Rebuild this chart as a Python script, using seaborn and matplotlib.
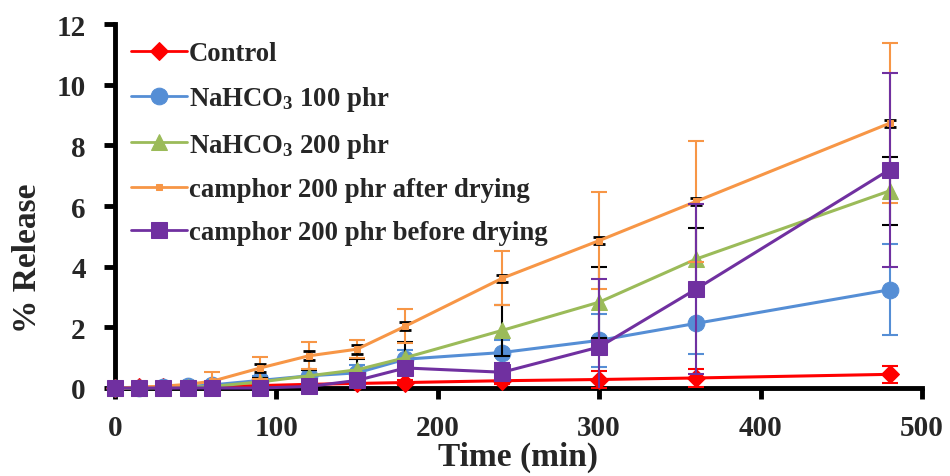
import pandas as pd
import seaborn as sns
from matplotlib import pyplot as plt

# release data
time_min = [0, 15, 30, 45, 60, 90, 120, 150, 180, 240, 300, 360, 480]

control = [0, 0.02, 0.03, 0.04, 0.05, 0.08, 0.12, 0.15, 0.18, 0.24, 0.28, 0.33, 0.45]
control_err = [0, 0.01, 0.01, 0.02, 0.02, 0.03, 0.05, 0.06, 0.08, 0.1, 0.29, 0.3, 0.27]

nahco3_100 = [0, 0.01, 0.02, 0.05, 0.1, 0.25, 0.4, 0.5, 0.95, 1.17, 1.57, 2.13, 3.24]
nahco3_100_err = [0, 0.01, 0.02, 0.05, 0.08, 0.15, 0.2, 0.25, 0.3, 0.4, 0.87, 1.02, 1.5]

nahco3_200 = [0, 0.0, 0.01, 0.02, 0.05, 0.2, 0.4, 0.6, 1.0, 1.9, 2.83, 4.25, 6.5]
nahco3_200_err = [0, 0, 0.01, 0.02, 0.05, 0.12, 0.2, 0.35, 0.52, 0.84, 1.17, 1.02, 1.13]

camphor_after = [0, 0.03, 0.06, 0.12, 0.22, 0.66, 1.06, 1.28, 2.04, 3.62, 4.86, 6.15, 8.73]
camphor_after_err = [0, 0.03, 0.05, 0.1, 0.3, 0.36, 0.45, 0.3, 0.55, 0.9, 1.6, 2.0, 2.64]
camphor_after_err2 = [0, 0, 0, 0, 0, 0.12, 0.15, 0.15, 0.12, 0.12, 0.12, 0.12, 0.12]

camphor_before = [0, 0, 0, 0, 0, 0, 0.05, 0.25, 0.66, 0.52, 1.35, 3.26, 7.2]
camphor_before_err = [0, 0, 0, 0, 0, 0.02, 0.05, 0.2, 0.2, 0.3, 2.25, 2.8, 3.2]

labels = ['Control', 'NaHCO$_{3}$ 100 phr', 'NaHCO$_{3}$ 200 phr',
          'camphor 200 phr after drying', 'camphor 200 phr before drying']


def make_plot():
    sns.set_theme(style="white")
    plt.rcParams['font.family'] = ['Liberation Serif', 'DejaVu Serif']
    plt.rcParams['font.weight'] = 'bold'
    plt.rcParams['mathtext.fontset'] = 'custom'
    plt.rcParams['mathtext.rm'] = 'Liberation Serif:bold'
    plt.rcParams['mathtext.bf'] = 'Liberation Serif:bold'
    plt.rcParams['mathtext.default'] = 'bf'

    fig = plt.figure(figsize=(9.5, 4.77), dpi=100)
    ax = fig.add_axes([0.121, 0.1845, 0.8495, 0.763])

    series = [
        (control, control_err, '#FF0000', '#FF0000', 'D', 9),
        (nahco3_100, nahco3_100_err, '#558ED5', '#558ED5', 'o', 12),
        (nahco3_200, nahco3_200_err, '#9BBB59', 'black', '^', 12),
        (camphor_after, camphor_after_err, '#F79646', '#F79646', 's', 4),
        (camphor_before, camphor_before_err, '#7030A0', '#7030A0', 's', 12),
    ]

    for i, (vals, errs, col, ecol, mk, ms) in enumerate(series):
        df = pd.DataFrame({'time': time_min, 'release': vals})
        z = 3 + i
        ax.errorbar(time_min, vals, yerr=errs, fmt='none', ecolor=ecol,
                    elinewidth=1.5, capsize=6, capthick=1.5, zorder=z)
        if i == 3:
            # small black bars drawn on the orange series
            ax.errorbar(time_min, vals, yerr=camphor_after_err2, fmt='none',
                        ecolor='black', elinewidth=2, capsize=4, capthick=2,
                        zorder=z)
        sns.lineplot(data=df, x='time', y='release', ax=ax, color=col,
                     marker=mk, markersize=ms, markeredgecolor=col,
                     linewidth=2.2, label=labels[i], clip_on=False, zorder=z + 0.5)

    ax.set_xlim(0, 500)
    ax.set_ylim(0, 12)
    ax.set_xticks(range(0, 501, 100))
    ax.set_yticks(range(0, 13, 2))

    for side in ['top', 'right']:
        ax.spines[side].set_visible(False)
    for side in ['left', 'bottom']:
        ax.spines[side].set_color('black')
        ax.spines[side].set_linewidth(3.5)
        ax.spines[side].set_zorder(2.5)

    ax.tick_params(axis='both', which='major', direction='out', length=8,
                   width=3.5, color='black', labelsize=21,
                   left=True, bottom=True)
    ax.tick_params(axis='y', pad=13)
    ax.tick_params(axis='x', pad=11)
    for lab in ax.get_xticklabels() + ax.get_yticklabels():
        lab.set_fontweight('bold')

    ax.set_xlabel('Time (min)', fontsize=24, fontweight='bold')
    ax.set_ylabel('% Release', fontsize=24, fontweight='bold')
    ax.xaxis.set_label_coords(0.5, -0.145)
    ax.yaxis.set_label_coords(-0.089, 0.36)

    leg = ax.legend(loc='upper left', bbox_to_anchor=(0.0, 0.997), frameon=False,
                    prop={'size': 19.3, 'weight': 'bold'}, handlelength=2.1,
                    labelspacing=0.66, handletextpad=0.05, borderaxespad=0.2)
    for h in leg.legend_handles:
        h.set_linewidth(2)

    fig.savefig('out.png', dpi=100)


def main():
    make_plot()


if __name__ == "__main__":
    main()
